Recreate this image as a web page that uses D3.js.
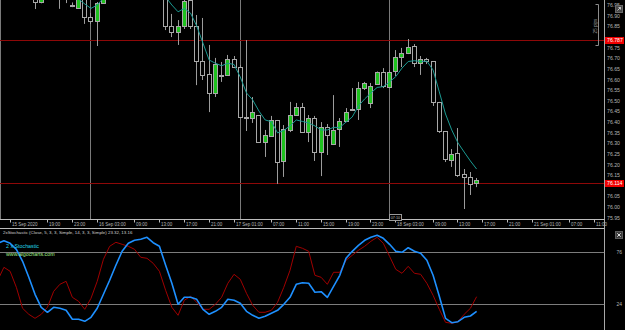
<!DOCTYPE html>
<html>
<head>
<meta charset="utf-8">
<script src="https://d3js.org/d3.v7.min.js"></script>
<style>
  html, body { margin: 0; padding: 0; background: #000; }
  svg { display: block; }
  text { font-family: "Liberation Sans", Arial, sans-serif; }
</style>
</head>
<body>
<svg id="chart" width="625" height="330"></svg>
<script>
// hourly candles, index 0 = 15 Sep 11:00
const opens = [77.00, 77.02, 77.04, 77.02, 77.00, 76.99,
  76.988, 76.964, 76.99, 77.00, 77.02, 76.985, 76.951, 76.937, 76.98, 76.894,
  76.873, 76.964, 76.99, 77.02, 77.05, 77.04, 77.06, 77.09, 77.07, 77.04,
  77.02, 77.00, 76.851, 76.823, 76.851, 76.975, 76.851, 76.686, 76.625, 76.536,
  76.621, 76.621, 76.696, 76.658, 76.423, 76.418, 76.432, 76.305, 76.334, 76.409,
  76.216, 76.362, 76.432, 76.470, 76.352, 76.418, 76.258, 76.376, 76.296, 76.366,
  76.404, 76.461, 76.461, 76.559, 76.489, 76.578, 76.635, 76.564, 76.639, 76.705,
  76.724, 76.757, 76.677, 76.696, 76.686, 76.494, 76.357, 76.221, 76.253, 76.155,
  76.141, 76.112];
const highs = [77.03, 77.05, 77.05, 77.03, 77.01, 77.00,
  77.00, 76.985, 77.02, 77.03, 77.03, 77.01, 76.962, 76.99, 76.99, 76.912,
  76.964, 77.00, 77.03, 77.06, 77.08, 77.07, 77.10, 77.11, 77.09, 77.06,
  77.04, 77.01, 76.908, 76.879, 76.975, 76.99, 76.903, 76.889, 76.762, 76.701,
  76.682, 76.715, 76.710, 76.668, 76.785, 76.517, 76.432, 76.362, 76.428, 76.409,
  76.385, 76.494, 76.489, 76.489, 76.432, 76.428, 76.399, 76.390, 76.526, 76.418,
  76.465, 76.559, 76.588, 76.588, 76.583, 76.637, 76.653, 76.644, 76.738, 76.748,
  76.790, 76.766, 76.710, 76.701, 76.686, 76.494, 76.357, 76.272, 76.371, 76.178,
  76.164, 76.136];
const lows = [76.99, 77.00, 77.01, 76.99, 76.98, 76.98,
  76.931, 76.958, 76.98, 76.99, 76.932, 76.959, 76.940, 76.935, 76.861, 76.861,
  76.757, 76.96, 76.98, 77.01, 77.03, 77.02, 77.05, 77.06, 77.03, 77.00,
  76.99, 76.832, 76.799, 76.762, 76.837, 76.837, 76.573, 76.597, 76.446, 76.517,
  76.588, 76.621, 76.653, 76.423, 76.357, 76.395, 76.301, 76.235, 76.329, 76.108,
  76.141, 76.352, 76.432, 76.352, 76.305, 76.216, 76.145, 76.244, 76.291, 76.282,
  76.399, 76.456, 76.409, 76.550, 76.465, 76.576, 76.559, 76.559, 76.616, 76.658,
  76.719, 76.658, 76.621, 76.672, 76.475, 76.348, 76.211, 76.188, 76.141, 75.990,
  76.056, 76.093];
const closes = [77.02, 77.04, 77.02, 77.00, 76.99, 76.985,
  76.966, 76.978, 77.01, 77.02, 76.985, 77.00, 76.950, 76.98, 76.894, 76.875,
  76.958, 76.99, 77.02, 77.05, 77.04, 77.06, 77.09, 77.07, 77.04, 77.02,
  77.00, 76.851, 76.823, 76.851, 76.969, 76.851, 76.686, 76.621, 76.536, 76.672,
  76.621, 76.696, 76.658, 76.423, 76.424, 76.446, 76.305, 76.338, 76.409, 76.211,
  76.366, 76.432, 76.470, 76.352, 76.418, 76.258, 76.376, 76.338, 76.362, 76.404,
  76.446, 76.462, 76.559, 76.583, 76.569, 76.635, 76.569, 76.635, 76.705, 76.724,
  76.752, 76.677, 76.696, 76.686, 76.494, 76.357, 76.225, 76.249, 76.150, 76.141,
  76.108, 76.127];
const maValues = [76.99, 76.99, 77.00, 77.00, 77.01, 77.01,
  77.00, 77.00, 76.995, 76.995, 76.99, 76.99, 76.985, 76.978, 76.955, 76.934,
  76.950, 76.983, 77.00, 77.01, 77.02, 77.03, 77.04, 77.05, 77.04, 77.03,
  77.01, 76.988, 76.950, 76.918, 76.934, 76.912, 76.851, 76.771, 76.691, 76.676,
  76.664, 76.676, 76.670, 76.611, 76.536, 76.503, 76.451, 76.409, 76.401, 76.348,
  76.360, 76.381, 76.409, 76.402, 76.395, 76.381, 76.362, 76.362, 76.374, 76.374,
  76.399, 76.423, 76.475, 76.508, 76.536, 76.562, 76.566, 76.588, 76.613, 76.653,
  76.684, 76.688, 76.684, 76.686, 76.644, 76.541, 76.437, 76.362, 76.301, 76.258,
  76.216, 76.178];

// 2xStochastic: fast (5,3,3) red, slow (14,3,3) blue
const stochFast = [48, 61, 57, 41, 20, 14, 10, 14, 21, 37,
  44, 47, 31, 27, 19, 30, 47, 69, 82, 86,
  84, 82, 79, 71, 70, 65, 57, 38, 21, 13,
  28, 32, 26, 19, 19, 24, 31, 45, 54, 49,
  35, 23, 16, 16, 18, 26, 41, 58, 82, 80,
  77, 53, 51, 44, 56, 56, 68, 73, 78, 82,
  87, 91, 85, 72, 59, 55, 62, 55, 54, 45,
  33, 19, 6, 5, 6.6, 14, 20, 31.6];
const stochSlow = [85, 87.5, 85, 79, 67, 51, 34, 21, 16, 21,
  20, 18, 9, 9, 7, 11, 20, 34, 48, 63,
  77, 85, 88, 89, 91, 85.6, 82, 63, 45, 24,
  31, 31, 29, 19, 14, 17, 21, 29, 28, 25,
  17, 13, 10, 12, 15, 18, 24, 31, 44, 45.6,
  45, 36, 36.6, 31, 42, 53, 70, 77, 83, 88,
  91, 93, 90, 84, 77, 76, 80.6, 77, 75, 68,
  53, 32, 10, 5.6, 6.6, 11, 12.3, 17];
const stochLevels = [76, 24];

const timeTickIndex = [2, 8, 12, 16, 22, 26, 30, 34, 38, 44, 48, 52, 56, 60, 64, 70, 74, 78, 82, 86, 92, 96];
const timeTickLabels = ["15 Sep 2020", "19:00", "23:00", "16 Sep 03:00", "09:00", "13:00", "17:00", "21:00",
  "17 Sep 01:00", "07:00", "11:00", "15:00", "19:00", "23:00", "18 Sep 03:00", "09:00", "13:00", "17:00",
  "21:00", "21 Sep 01:00", "07:00", "11:00"];
const priceTicks = [76.95, 76.90, 76.85, 76.75, 76.70, 76.65, 76.60, 76.55, 76.50, 76.45, 76.40,
  76.35, 76.30, 76.25, 76.20, 76.15, 76.05, 76.00, 75.95];
const separatorIndex = [15, 39, 63];
const priceLines = [76.787, 76.114];

const W = 625, H = 330;
const axisX = 604.5;
const mainBottom = 219.5, indTop = 228.5;

const svg = d3.select("#chart");
svg.append("rect").attr("width", W).attr("height", H).attr("fill", "#000");

const x = d3.scaleLinear().domain([0, 96]).range([-2.3, 594.8]);
const y = d3.scaleLinear().domain([75.95, 76.95]).range([217.5, 5]);
const ys = d3.scaleLinear().domain([0, 100]).range([328.3, 228.3]);
const px = (i) => Math.floor(x(i)) + 0.5;

const defs = svg.append("defs");
defs.append("clipPath").attr("id", "clip-main")
    .append("rect").attr("x", 0).attr("y", 0).attr("width", axisX).attr("height", mainBottom);
defs.append("clipPath").attr("id", "clip-ind")
    .append("rect").attr("x", 0).attr("y", indTop).attr("width", axisX).attr("height", H - indTop);

// main price window
const gMain = svg.append("g").attr("clip-path", "url(#clip-main)");

gMain.append("line")
    .attr("x1", 0.5).attr("x2", 0.5).attr("y1", 0).attr("y2", mainBottom)
    .attr("stroke", "#7a7a7a");

gMain.selectAll(".sep")
    .data(separatorIndex)
    .join("line")
    .attr("class", "sep")
    .attr("x1", (d) => px(d)).attr("x2", (d) => px(d))
    .attr("y1", 0).attr("y2", mainBottom)
    .attr("stroke", "#7a7a7a");

gMain.selectAll(".pline")
    .data(priceLines)
    .join("line")
    .attr("class", "pline")
    .attr("x1", 0).attr("x2", axisX)
    .attr("y1", (d) => Math.round(y(d)) + 0.5).attr("y2", (d) => Math.round(y(d)) + 0.5)
    .attr("stroke", "#8e0808");

const candles = opens.map((o, i) => ({ i, o, h: highs[i], l: lows[i], c: closes[i] }));

gMain.selectAll(".wick")
    .data(candles)
    .join("line")
    .attr("class", "wick")
    .attr("x1", (d) => px(d.i)).attr("x2", (d) => px(d.i))
    .attr("y1", (d) => y(d.h)).attr("y2", (d) => y(d.l))
    .attr("stroke", "#9c9c9c");

gMain.selectAll(".body")
    .data(candles)
    .join("rect")
    .attr("class", "body")
    .attr("x", (d) => px(d.i) - 2)
    .attr("width", 4)
    .attr("y", (d) => Math.round(y(Math.max(d.o, d.c))) + 0.5)
    .attr("height", (d) => Math.max(1, Math.round(Math.abs(y(d.o) - y(d.c)))))
    .attr("fill", (d) => (d.c > d.o ? "#1fc21f" : "#000"))
    .attr("stroke", "#a8a8a8")
    .attr("stroke-width", 1);

gMain.append("path")
    .datum(maValues)
    .attr("fill", "none")
    .attr("stroke", "#1a9a92")
    .attr("stroke-width", 1)
    .attr("d", d3.line().x((d, i) => x(i)).y((d) => y(d)));

// 25 pips ruler
const ruler = svg.append("g").attr("stroke", "#8c8c8c");
ruler.append("line").attr("x1", 598.5).attr("x2", 598.5).attr("y1", 4.5).attr("y2", 45.5);
ruler.append("line").attr("x1", 595.5).attr("x2", 598.5).attr("y1", 4.5).attr("y2", 4.5);
ruler.append("line").attr("x1", 595.5).attr("x2", 598.5).attr("y1", 45.5).attr("y2", 45.5);
svg.append("text")
    .attr("transform", "translate(595.5,26) rotate(-90)")
    .attr("text-anchor", "middle")
    .attr("dominant-baseline", "middle")
    .attr("fill", "#9a9a9a")
    .style("font-size", "4.6px")
    .text("25 pips");

// price axis
svg.append("line")
    .attr("x1", axisX).attr("x2", axisX).attr("y1", 0).attr("y2", H)
    .attr("stroke", "#a8a8a8");

const yAxis = svg.append("g")
    .attr("transform", `translate(${axisX},0)`)
    .call(d3.axisRight(y).tickValues(priceTicks).tickSize(0).tickPadding(2.5).tickFormat(d3.format(".2f")));
yAxis.select(".domain").remove();
yAxis.selectAll("text")
    .attr("fill", "#b4b4b4")
    .style("font-size", "5.2px")
    .style("font-family", "Liberation Sans, Arial, sans-serif");

const priceTags = svg.selectAll(".ptag")
    .data(priceLines)
    .join("g")
    .attr("class", "ptag")
    .attr("transform", (d) => `translate(${axisX},${Math.round(y(d)) + 0.5})`);
priceTags.append("rect")
    .attr("x", 0.5).attr("y", -3.5).attr("width", 19).attr("height", 7)
    .attr("fill", "#f00000");
priceTags.append("text")
    .attr("x", 2.5).attr("dy", "0.35em")
    .attr("fill", "#fff")
    .style("font-size", "5.2px")
    .text((d) => d.toFixed(3));

// chart icon top right
svg.append("rect").attr("x", 615.5).attr("y", 5.5).attr("width", 7).attr("height", 7)
    .attr("fill", "#4a4a4a").attr("stroke", "#6a6a6a");
svg.append("path").attr("d", "M617.5,10.5 L620.5,7.5 M618.5,7.5 L620.5,7.5 L620.5,9.5")
    .attr("stroke", "#e0e0e0").attr("fill", "none").attr("stroke-width", 0.8);

// time axis
svg.append("line").attr("x1", 0).attr("x2", axisX).attr("y1", mainBottom).attr("y2", mainBottom)
    .attr("stroke", "#bcbcbc");
svg.append("line").attr("x1", 0).attr("x2", axisX).attr("y1", indTop).attr("y2", indTop)
    .attr("stroke", "#bcbcbc");

const xAxis = svg.append("g")
    .attr("transform", `translate(0,${mainBottom})`)
    .call(d3.axisBottom(x).tickValues(timeTickIndex).tickSize(3).tickFormat((d, i) => timeTickLabels[i]));
xAxis.select(".domain").remove();
xAxis.selectAll(".tick")
    .attr("transform", (d) => `translate(${px(d)},0)`);
xAxis.selectAll(".tick line").attr("stroke", "#bcbcbc");
xAxis.selectAll(".tick text")
    .attr("x", 1.5).attr("y", 5.3).attr("dy", "0.35em")
    .attr("text-anchor", "start")
    .attr("fill", "#b4b4b4")
    .style("font-size", "4.5px")
    .style("font-family", "Liberation Sans, Arial, sans-serif");

// small time marker box at the separator
svg.append("rect").attr("x", 389.5).attr("y", 214.5).attr("width", 12).attr("height", 6)
    .attr("fill", "#000").attr("stroke", "#9a9a9a");
svg.append("text").attr("x", 395.5).attr("y", 217.6).attr("text-anchor", "middle")
    .attr("dominant-baseline", "middle").attr("fill", "#bdbdbd").style("font-size", "3.8px")
    .text("07:10");

// indicator window
const gInd = svg.append("g").attr("clip-path", "url(#clip-ind)");

gInd.selectAll(".level")
    .data(stochLevels)
    .join("line")
    .attr("class", "level")
    .attr("x1", 0).attr("x2", axisX)
    .attr("y1", (d) => Math.round(ys(d)) + 0.5).attr("y2", (d) => Math.round(ys(d)) + 0.5)
    .attr("stroke", "#7c7c7c");

const stochLine = d3.line().x((d, i) => x(i)).y((d) => ys(d));
gInd.append("path")
    .datum(stochFast)
    .attr("fill", "none").attr("stroke", "#a00000").attr("stroke-width", 1)
    .attr("d", stochLine);
gInd.append("path")
    .datum(stochSlow)
    .attr("fill", "none").attr("stroke", "#1e90ff").attr("stroke-width", 1.6)
    .attr("stroke-linejoin", "round")
    .attr("d", stochLine);

const sAxis = svg.append("g")
    .attr("transform", `translate(${axisX},0)`)
    .call(d3.axisRight(ys).tickValues(stochLevels).tickSize(0).tickPadding(12));
sAxis.select(".domain").remove();
sAxis.selectAll("text")
    .attr("fill", "#b4b4b4")
    .style("font-size", "5px")
    .style("font-family", "Liberation Sans, Arial, sans-serif");

svg.append("text")
    .attr("x", 3).attr("y", 232.5).attr("dominant-baseline", "middle")
    .attr("fill", "#d0d0d0").style("font-size", "4.4px")
    .text("2xStochastic (Close, 5, 3, 3, Simple, 14, 3, 3, Simple) 23.32, 13.16");
svg.append("text")
    .attr("x", 6).attr("y", 247).attr("dominant-baseline", "middle")
    .attr("fill", "#22d6e6").style("font-size", "5.3px")
    .text("2 x Stochastic");
svg.append("text")
    .attr("x", 6).attr("y", 254.5).attr("dominant-baseline", "middle")
    .attr("fill", "#a6f08a").style("font-size", "5.3px")
    .text("www.algocharts.com");

// close button of the indicator window
svg.append("rect").attr("x", 615.5).attr("y", 231.5).attr("width", 7).attr("height", 7)
    .attr("fill", "#3c3c3c").attr("stroke", "#5a5a5a");
svg.append("path").attr("d", "M617.3,233.3 L620.7,236.7 M620.7,233.3 L617.3,236.7")
    .attr("stroke", "#f0f0f0").attr("stroke-width", 0.9);
</script>
</body>
</html>
